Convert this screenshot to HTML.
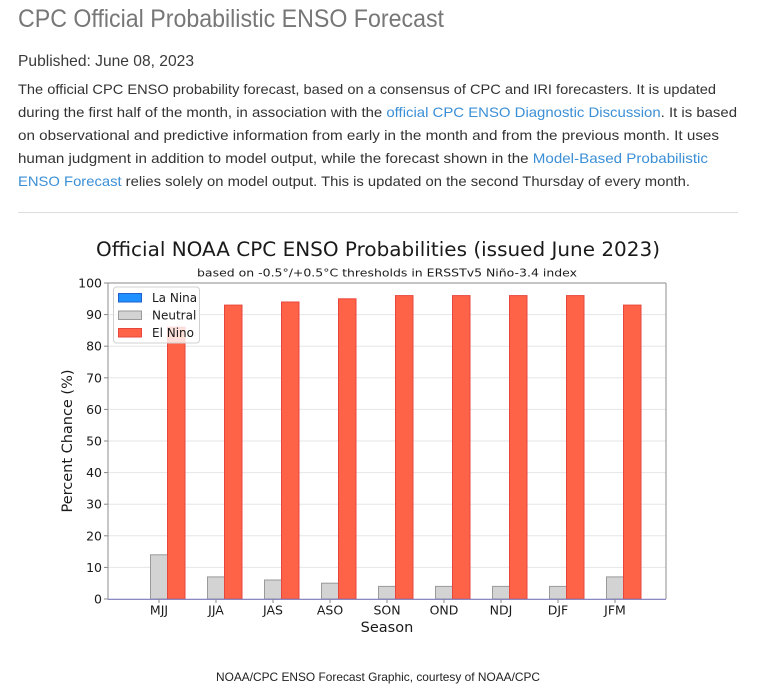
<!DOCTYPE html>
<html>
<head>
<meta charset="utf-8">
<style>
html,body{margin:0;padding:0;background:#fff;}
body{width:757px;height:693px;overflow:hidden;}
svg{display:block;}
.p{font-family:"Liberation Sans",sans-serif;font-size:14px;fill:#333;}
.a{fill:#3b8fd6;}
.c{font-family:"DejaVu Sans","Liberation Sans",sans-serif;fill:#1a1a1a;}
</style>
</head>
<body>
<svg width="757" height="693" viewBox="0 0 757 693" xmlns="http://www.w3.org/2000/svg">
<!-- page header -->
<text x="18" y="27" font-family="Liberation Sans,sans-serif" font-size="25" fill="#777" textLength="426" lengthAdjust="spacingAndGlyphs">CPC Official Probabilistic ENSO Forecast</text>
<text x="18" y="66" font-family="Liberation Sans,sans-serif" font-size="16" fill="#3a3a3a" textLength="176" lengthAdjust="spacingAndGlyphs">Published: June 08, 2023</text>
<text class="p" x="18" y="94" textLength="698" lengthAdjust="spacingAndGlyphs">The official CPC ENSO probability forecast, based on a consensus of CPC and IRI forecasters. It is updated</text>
<text class="p" x="18" y="117" textLength="719" lengthAdjust="spacingAndGlyphs">during the first half of the month, in association with the <tspan class="a">official CPC ENSO Diagnostic Discussion</tspan>. It is based</text>
<text class="p" x="18" y="140" textLength="701" lengthAdjust="spacingAndGlyphs">on observational and predictive information from early in the month and from the previous month. It uses</text>
<text class="p" x="18" y="163" textLength="690" lengthAdjust="spacingAndGlyphs">human judgment in addition to model output, while the forecast shown in the <tspan class="a">Model-Based Probabilistic</tspan></text>
<text class="p" x="18" y="186" textLength="672" lengthAdjust="spacingAndGlyphs"><tspan class="a">ENSO Forecast</tspan> relies solely on model output. This is updated on the second Thursday of every month.</text>
<line x1="18" y1="212.5" x2="738" y2="212.5" stroke="#ddd" stroke-width="1"/>

<!-- chart titles -->
<text class="c" x="378" y="256" font-size="19.5" text-anchor="middle" textLength="564" lengthAdjust="spacingAndGlyphs">Official NOAA CPC ENSO Probabilities (issued June 2023)</text>
<text class="c" x="387" y="276.5" font-size="11" text-anchor="middle" textLength="380" lengthAdjust="spacingAndGlyphs">based on -0.5°/+0.5°C thresholds in ERSSTv5 Niño-3.4 index</text>

<!-- grid -->
<g stroke="#e6e6e6" stroke-width="1">
<line x1="108" x2="666" y1="567.4" y2="567.4"/>
<line x1="108" x2="666" y1="535.8" y2="535.8"/>
<line x1="108" x2="666" y1="504.2" y2="504.2"/>
<line x1="108" x2="666" y1="472.6" y2="472.6"/>
<line x1="108" x2="666" y1="441" y2="441"/>
<line x1="108" x2="666" y1="409.4" y2="409.4"/>
<line x1="108" x2="666" y1="377.8" y2="377.8"/>
<line x1="108" x2="666" y1="346.2" y2="346.2"/>
<line x1="108" x2="666" y1="314.6" y2="314.6"/>
</g>

<!-- bars: neutral -->
<g fill="#d3d3d3" stroke="#9a9a9a" stroke-width="1">
<rect x="150.5" y="554.8" width="17" height="44.2"/>
<rect x="207.5" y="576.9" width="17" height="22.1"/>
<rect x="264.5" y="580.0" width="17" height="19"/>
<rect x="321.5" y="583.2" width="17" height="15.8"/>
<rect x="378.5" y="586.4" width="17" height="12.6"/>
<rect x="435.5" y="586.4" width="17" height="12.6"/>
<rect x="492.5" y="586.4" width="17" height="12.6"/>
<rect x="549.5" y="586.4" width="17" height="12.6"/>
<rect x="606.5" y="576.9" width="17" height="22.1"/>
</g>
<!-- bars: el nino -->
<g fill="#ff6347" stroke="#e8453c" stroke-width="1">
<rect x="167.5" y="327.2" width="17.5" height="271.8"/>
<rect x="224.5" y="305.1" width="17.5" height="293.9"/>
<rect x="281.5" y="302.0" width="17.5" height="297"/>
<rect x="338.5" y="298.8" width="17.5" height="300.2"/>
<rect x="395.5" y="295.6" width="17.5" height="303.4"/>
<rect x="452.5" y="295.6" width="17.5" height="303.4"/>
<rect x="509.5" y="295.6" width="17.5" height="303.4"/>
<rect x="566.5" y="295.6" width="17.5" height="303.4"/>
<rect x="623.5" y="305.1" width="17.5" height="293.9"/>
</g>

<!-- spines -->
<line x1="108" y1="283" x2="108" y2="599" stroke="#a0a0a0" stroke-width="1.2"/>
<line x1="666" y1="283" x2="666" y2="599" stroke="#a0a0a0" stroke-width="1.2"/>
<line x1="108" y1="283" x2="666" y2="283" stroke="#a0a0a0" stroke-width="1.2"/>
<line x1="108" y1="599.3" x2="666" y2="599.3" stroke="#7a78b8" stroke-width="1.2"/>

<!-- y ticks -->
<g stroke="#888" stroke-width="1">
<line x1="104" x2="108" y1="599" y2="599"/>
<line x1="104" x2="108" y1="567.4" y2="567.4"/>
<line x1="104" x2="108" y1="535.8" y2="535.8"/>
<line x1="104" x2="108" y1="504.2" y2="504.2"/>
<line x1="104" x2="108" y1="472.6" y2="472.6"/>
<line x1="104" x2="108" y1="441" y2="441"/>
<line x1="104" x2="108" y1="409.4" y2="409.4"/>
<line x1="104" x2="108" y1="377.8" y2="377.8"/>
<line x1="104" x2="108" y1="346.2" y2="346.2"/>
<line x1="104" x2="108" y1="314.6" y2="314.6"/>
<line x1="104" x2="108" y1="283" y2="283"/>
</g>
<g class="c" font-size="12.5" text-anchor="end">
<text x="102" y="603.5">0</text>
<text x="102" y="571.9">10</text>
<text x="102" y="540.3">20</text>
<text x="102" y="508.7">30</text>
<text x="102" y="477.1">40</text>
<text x="102" y="445.5">50</text>
<text x="102" y="413.9">60</text>
<text x="102" y="382.3">70</text>
<text x="102" y="350.7">80</text>
<text x="102" y="319.1">90</text>
<text x="102" y="287.5">100</text>
</g>

<!-- x ticks -->
<g stroke="#888" stroke-width="1">
<line x1="159" x2="159" y1="599" y2="603"/>
<line x1="216" x2="216" y1="599" y2="603"/>
<line x1="273" x2="273" y1="599" y2="603"/>
<line x1="330" x2="330" y1="599" y2="603"/>
<line x1="387" x2="387" y1="599" y2="603"/>
<line x1="444" x2="444" y1="599" y2="603"/>
<line x1="501" x2="501" y1="599" y2="603"/>
<line x1="558" x2="558" y1="599" y2="603"/>
<line x1="615" x2="615" y1="599" y2="603"/>
</g>
<g class="c" font-size="12.5" text-anchor="middle">
<text x="159" y="614.5">MJJ</text>
<text x="216" y="614.5">JJA</text>
<text x="273" y="614.5">JAS</text>
<text x="330" y="614.5">ASO</text>
<text x="387" y="614.5">SON</text>
<text x="444" y="614.5">OND</text>
<text x="501" y="614.5">NDJ</text>
<text x="558" y="614.5">DJF</text>
<text x="615" y="614.5">JFM</text>
</g>
<text class="c" x="387" y="632" font-size="14.5" text-anchor="middle">Season</text>
<text class="c" x="0" y="0" font-size="14.5" text-anchor="middle" transform="translate(72,441) rotate(-90)" textLength="143" lengthAdjust="spacingAndGlyphs">Percent Chance (%)</text>

<!-- legend -->
<rect x="113.5" y="287" width="86" height="56" rx="3" ry="3" fill="#fff" fill-opacity="0.8" stroke="#d0d0d0" stroke-width="1"/>
<rect x="118.5" y="293.5" width="23" height="8.5" fill="#1e90ff" stroke="#1f5fcf" stroke-width="1"/>
<rect x="118.5" y="311" width="23" height="8.5" fill="#d3d3d3" stroke="#9a9a9a" stroke-width="1"/>
<rect x="118.5" y="328.5" width="23" height="8.5" fill="#ff6347" stroke="#e8453c" stroke-width="1"/>
<g class="c" font-size="12">
<text x="152" y="302">La Nina</text>
<text x="152" y="319.5">Neutral</text>
<text x="152" y="337">El Nino</text>
</g>

<!-- footer -->
<text x="378" y="681" font-family="Liberation Sans,sans-serif" font-size="12" fill="#222" text-anchor="middle" textLength="324" lengthAdjust="spacingAndGlyphs">NOAA/CPC ENSO Forecast Graphic, courtesy of NOAA/CPC</text>
</svg>
</body>
</html>
